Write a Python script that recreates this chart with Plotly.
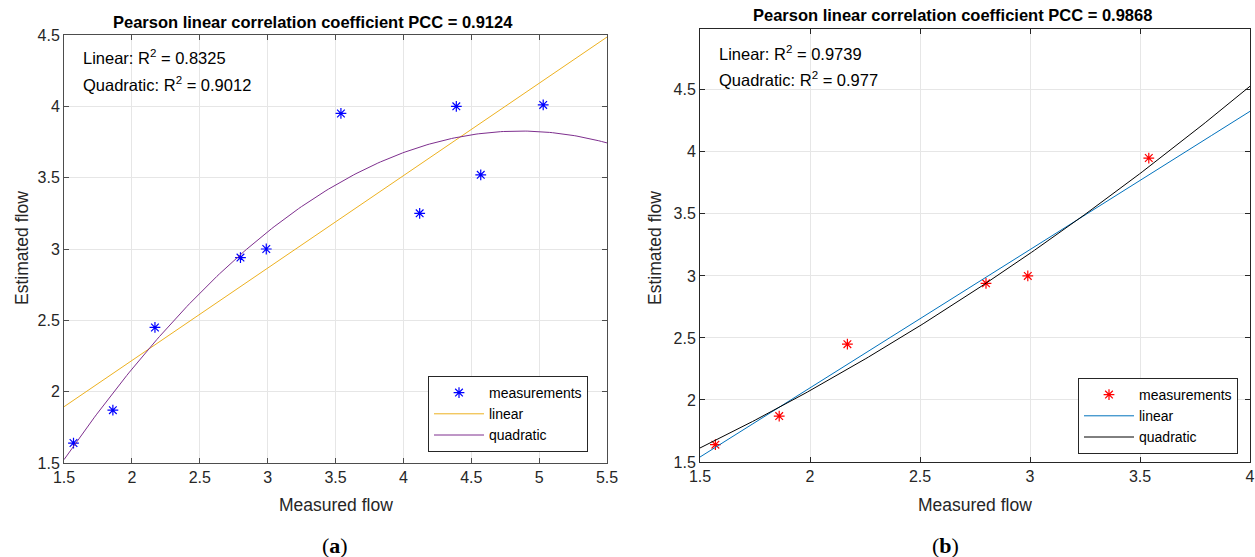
import numpy as np
import plotly.graph_objects as go

# ---- data ----
meas_a = [1.57, 1.86, 2.17, 2.80, 2.99, 3.54, 4.12, 4.39, 4.57, 5.03]
est_a = [1.64, 1.87, 2.45, 2.94, 3.00, 3.95, 3.25, 4.00, 3.52, 4.01]
meas_b = [1.57, 1.86, 2.17, 2.80, 2.99, 3.54]
est_b = [1.64, 1.87, 2.45, 2.94, 3.00, 3.95]
titles = ["Pearson linear correlation coefficient PCC = 0.9124",
          "Pearson linear correlation coefficient PCC = 0.9868"]
r2_lin = ["0.8325", "0.9739"]
r2_quad = ["0.9012", "0.977"]
xr_a = [1.5, 5.5]
xr_b = [1.5, 4.0]
yr_a = [1.5, 4.5]
yr_b = [1.5, 4.99]
panel_labels = ["a", "b"]
x_title = "Measured flow"
y_title = "Estimated flow"

FONT = "Liberation Sans, Arial, sans-serif"
TXT = "#262626"
W, H = 1255, 557

fig = go.Figure()


def add_panel(n, xs, ys, xr, mcol, lcol, qcol, legend):
    xa = "x" if n == 1 else "x2"
    ya = "y" if n == 1 else "y2"
    xx = np.linspace(xr[0], xr[1], 200)
    pl = np.polyfit(xs, ys, 1)
    pq = np.polyfit(xs, ys, 2)
    fig.add_trace(go.Scatter(x=xs, y=ys, mode="markers", name="measurements",
                             marker=dict(symbol="asterisk-open", size=9, color=mcol,
                                         line=dict(color=mcol, width=1.2)),
                             xaxis=xa, yaxis=ya, legend=legend))
    fig.add_trace(go.Scatter(x=xx, y=np.polyval(pl, xx), mode="lines", name="linear",
                             line=dict(color=lcol, width=1),
                             xaxis=xa, yaxis=ya, legend=legend))
    fig.add_trace(go.Scatter(x=xx, y=np.polyval(pq, xx), mode="lines", name="quadratic",
                             line=dict(color=qcol, width=1),
                             xaxis=xa, yaxis=ya, legend=legend))


add_panel(1, meas_a, est_a, xr_a, "#0000ff", "#EDB120", "#7E2F8E", "legend")
add_panel(2, meas_b, est_b, xr_b, "#ff0000", "#0072BD", "#000000", "legend2")


def ax(domain, rng, anchor, lc):
    return dict(domain=domain, range=rng, anchor=anchor, automargin=False,
                showgrid=True, gridcolor="#e6e6e6", gridwidth=1, zeroline=False,
                showline=True, linecolor=lc, linewidth=1, mirror="ticks",
                ticks="inside", ticklen=5, tickcolor=lc,
                tickfont=dict(family=FONT, size=16, color=TXT), dtick=0.5)


dom_xa = [64 / W, 607 / W]
dom_xb = [700 / W, 1250 / W]
dom_ya = [(H - 463) / H, (H - 35) / H]
dom_yb = [(H - 462) / H, (H - 29) / H]

fig.update_layout(
    width=W, height=H,
    margin=dict(l=0, r=0, t=0, b=0),
    paper_bgcolor="white", plot_bgcolor="white",
    xaxis=ax(dom_xa, xr_a, "y", "#4d4d4d"),
    yaxis=ax(dom_ya, yr_a, "x", "#4d4d4d"),
    xaxis2=ax(dom_xb, xr_b, "y2", TXT),
    yaxis2=ax(dom_yb, yr_b, "x2", TXT),
    legend=dict(x=588 / W, y=(H - 414) / H, xanchor="right", yanchor="middle",
                bgcolor="white", bordercolor=TXT, borderwidth=1, itemwidth=50,
                font=dict(family=FONT, size=14, color="black"), tracegroupgap=0),
    legend2=dict(x=1238 / W, y=(H - 416) / H, xanchor="right", yanchor="middle",
                 bgcolor="white", bordercolor=TXT, borderwidth=1, itemwidth=50,
                 font=dict(family=FONT, size=14, color="black"), tracegroupgap=0),
    showlegend=True,
)

anns = []
panels = [
    dict(x0=64, x1=607, title_x=313, title_y=22, lin_y=57, quad_y=84, ytitle_x=22, lab_x=335),
    dict(x0=700, x1=1250, title_x=952, title_y=15, lin_y=53, quad_y=79, ytitle_x=655, lab_x=945),
]
for i, p in enumerate(panels):
    cx = (p["x0"] + p["x1"]) / 2 / W
    anns.append(dict(text=f"<b>{titles[i]}</b>", xref="paper", yref="paper", x=p["title_x"] / W,
                     y=(H - p["title_y"]) / H, xanchor="center", yanchor="middle", showarrow=False,
                     font=dict(family=FONT, size=16.5, color="black")))
    anns.append(dict(text=f"Linear: R<sup>2</sup> = {r2_lin[i]}", xref="paper", yref="paper",
                     x=(p["x0"] + 17) / W, y=(H - p["lin_y"]) / H, xanchor="left", yanchor="middle",
                     showarrow=False, font=dict(family=FONT, size=16.5, color="black")))
    anns.append(dict(text=f"Quadratic: R<sup>2</sup> = {r2_quad[i]}", xref="paper", yref="paper",
                     x=(p["x0"] + 17) / W, y=(H - p["quad_y"]) / H, xanchor="left", yanchor="middle",
                     showarrow=False, font=dict(family=FONT, size=16.5, color="black")))
    anns.append(dict(text=x_title, xref="paper", yref="paper", x=cx, y=(H - 505) / H,
                     xanchor="center", yanchor="middle", showarrow=False,
                     font=dict(family=FONT, size=17.5, color=TXT)))
    anns.append(dict(text=y_title, xref="paper", yref="paper", x=p["ytitle_x"] / W, y=(H - 248) / H,
                     xanchor="center", yanchor="middle", showarrow=False, textangle=-90,
                     font=dict(family=FONT, size=17.5, color=TXT)))
    anns.append(dict(text=f"(<b>{panel_labels[i]}</b>)", xref="paper", yref="paper", x=p["lab_x"] / W,
                     y=(H - 545) / H, xanchor="center", yanchor="middle", showarrow=False,
                     font=dict(family="Liberation Serif, DejaVu Serif, serif", size=22, color="black")))
fig.update_layout(annotations=anns)

fig.write_html("out.html", config={"displayModeBar": False},
               post_script="document.body.style.margin='0';document.body.style.padding='0';"
                           "document.body.style.overflow='hidden';")
